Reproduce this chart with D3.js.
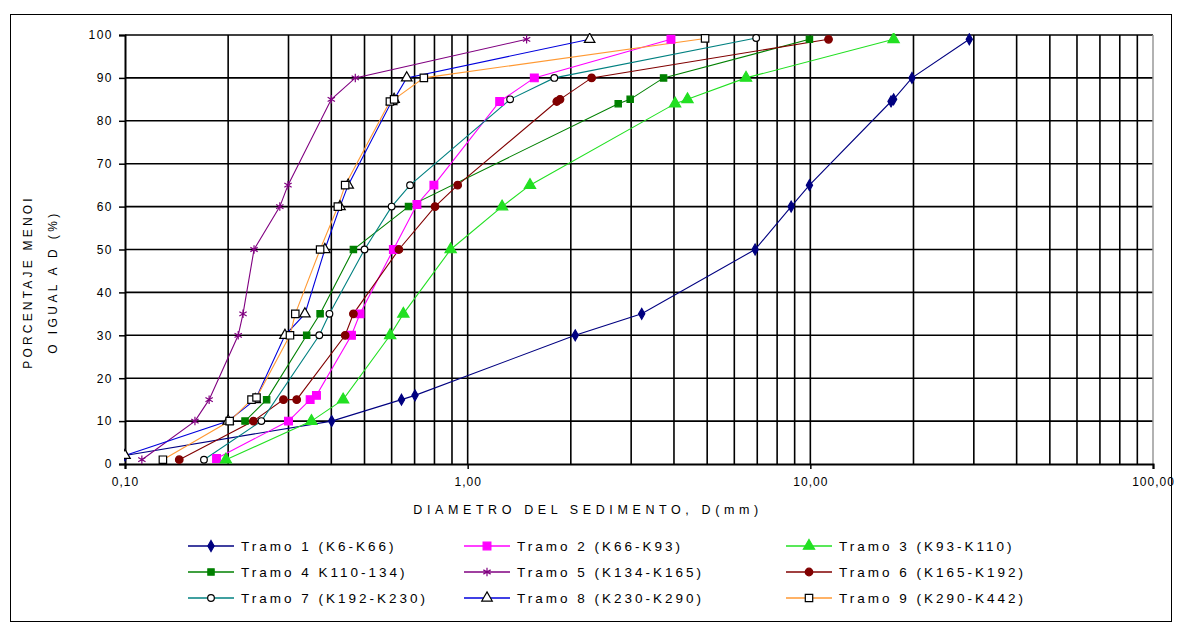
<!DOCTYPE html>
<html>
<head>
<meta charset="utf-8">
<script src="https://cdn.jsdelivr.net/npm/d3@7"></script>
<style>
  body { margin: 0; background: #fff; }
  text { font-family: "Liberation Sans", Arial, sans-serif; fill: #000; }
</style>
</head>
<body>
<div id="chart"></div>
<script>
var width = 1182;
var height = 628;
var margin = { top: 35, right: 29, bottom: 164, left: 125 };
var graphWidth = width - margin.left - margin.right;
var graphHeight = height - margin.top - margin.bottom;

// x: diametro (mm), y: porcentaje menor o igual
var tramo1D = [0.1, 0.401, 0.641, 0.702, 2.06, 3.22, 6.9, 8.79, 9.94, 17.2, 17.5, 19.8, 29.1];
var tramo1P = [2, 10, 15, 16, 30, 35, 50, 60, 65, 84.5, 85, 90, 99];
var tramo2D = [0.185, 0.3, 0.347, 0.362, 0.458, 0.485, 0.607, 0.711, 0.797, 1.24, 1.565, 3.92];
var tramo2P = [1.3, 10, 15, 16, 30, 35, 50, 60.5, 65, 84.5, 90, 99];
var tramo3D = [0.197, 0.35, 0.433, 0.594, 0.649, 0.892, 1.26, 1.52, 4.03, 4.38, 6.49, 17.5];
var tramo3P = [1, 10, 15, 30, 35, 50, 60, 65, 84, 85, 90, 99];
var tramo4D = [0.224, 0.259, 0.339, 0.371, 0.464, 0.672, 2.75, 2.98, 3.73, 9.94];
var tramo4P = [10, 15, 30, 35, 50, 60, 84, 85, 90, 99];
var tramo5D = [0.112, 0.16, 0.176, 0.214, 0.221, 0.238, 0.283, 0.299, 0.4, 0.47, 1.486];
var tramo5P = [1, 10, 15, 30, 35, 50, 60, 65, 85, 90, 99];
var tramo6D = [0.144, 0.237, 0.29, 0.317, 0.439, 0.464, 0.63, 0.803, 0.935, 1.82, 1.86, 2.3, 11.3];
var tramo6P = [1, 10, 15, 15, 30, 35, 50, 60, 65, 84.5, 85, 90, 99];
var tramo7D = [0.17, 0.25, 0.369, 0.395, 0.5, 0.6, 0.679, 1.33, 1.79, 6.95];
var tramo7P = [1, 10, 30, 35, 50, 60, 65, 85, 90, 99.3];
var tramo8D = [0.1, 0.2, 0.24, 0.293, 0.335, 0.383, 0.424, 0.448, 0.6, 0.61, 0.664, 2.27];
var tramo8P = [2, 10, 15, 30, 35, 50, 60, 65, 84.5, 85, 90, 99];
var tramo9D = [0.129, 0.202, 0.234, 0.242, 0.303, 0.314, 0.371, 0.418, 0.439, 0.593, 0.61, 0.745, 4.93];
var tramo9P = [1, 10, 15, 15.5, 30, 35, 50, 60, 65, 84.5, 85, 90, 99.2];

var seriesNames = [
  'Tramo 1 (K6-K66)', 'Tramo 2 (K66-K93)', 'Tramo 3 (K93-K110)',
  'Tramo 4 K110-134)', 'Tramo 5 (K134-K165)', 'Tramo 6 (K165-K192)',
  'Tramo 7 (K192-K230)', 'Tramo 8 (K230-K290)', 'Tramo 9 (K290-K442)'
];
var xTickValues = [0.1, 1, 10, 100];
var xTickLabels = ['0,10', '1,00', '10,00', '100,00'];
var yTickValues = [0, 10, 20, 30, 40, 50, 60, 70, 80, 90, 100];

var styles = [
  { line: '#000080', sym: d3.symbolDiamond, size: 34, fill: '#000080', stroke: '#000080' },
  { line: '#ff00ff', sym: d3.symbolSquare, size: 60, fill: '#ff00ff', stroke: '#ff00ff' },
  { line: '#22e022', sym: d3.symbolTriangle, size: 55, fill: '#22e022', stroke: '#22e022' },
  { line: '#008000', sym: d3.symbolSquare, size: 40, fill: '#008000', stroke: '#008000' },
  { line: '#800080', sym: d3.symbolAsterisk, size: 50, fill: 'none', stroke: '#800080' },
  { line: '#800000', sym: d3.symbolCircle, size: 45, fill: '#800000', stroke: '#800000' },
  { line: '#008080', sym: d3.symbolCircle, size: 35, fill: '#fff', stroke: '#000' },
  { line: '#0000dd', sym: d3.symbolTriangle, size: 48, fill: '#fff', stroke: '#000' },
  { line: '#ff9933', sym: d3.symbolSquare, size: 55, fill: '#fff', stroke: '#000' }
];

var allD = [tramo1D, tramo2D, tramo3D, tramo4D, tramo5D, tramo6D, tramo7D, tramo8D, tramo9D];
var allP = [tramo1P, tramo2P, tramo3P, tramo4P, tramo5P, tramo6P, tramo7P, tramo8P, tramo9P];
var series = seriesNames.map((name, i) => ({
  name: name,
  style: styles[i],
  values: allD[i].map((d, j) => ({ d: d, p: allP[i][j] }))
}));

var svg = d3
  .select('#chart')
  .append('svg')
  .attr('width', width)
  .attr('height', height);

// outer frame
svg
  .append('rect')
  .attr('x', 10.5)
  .attr('y', 14.5)
  .attr('width', 1161)
  .attr('height', 607)
  .attr('fill', '#fff')
  .attr('stroke', '#000')
  .attr('stroke-width', 1);

var graph = svg
  .append('g')
  .attr('transform', 'translate(' + margin.left + ',' + margin.top + ')');

var x = d3.scaleLog().domain([0.1, 100]).range([0, graphWidth]);
var y = d3.scaleLinear().domain([0, 100]).range([graphHeight, 0]);

svg
  .append('defs')
  .append('clipPath')
  .attr('id', 'plot-clip')
  .append('rect')
  .attr('x', -1)
  .attr('y', -2)
  .attr('width', graphWidth + 2)
  .attr('height', graphHeight + 4);

// grid
var vGrid = x.ticks().filter(v => v > 0.1 && v < 100);
graph
  .append('g')
  .selectAll('line')
  .data(vGrid)
  .enter()
  .append('line')
  .attr('x1', d => x(d))
  .attr('x2', d => x(d))
  .attr('y1', 0)
  .attr('y2', graphHeight)
  .attr('stroke', '#000')
  .attr('stroke-width', 1.6);

graph
  .append('g')
  .selectAll('line')
  .data(yTickValues.filter(v => v > 0))
  .enter()
  .append('line')
  .attr('x1', 0)
  .attr('x2', graphWidth)
  .attr('y1', d => y(d))
  .attr('y2', d => y(d))
  .attr('stroke', '#000')
  .attr('stroke-width', 1.6);

// right edge of plot area
graph
  .append('line')
  .attr('x1', graphWidth)
  .attr('x2', graphWidth)
  .attr('y1', 0)
  .attr('y2', graphHeight)
  .attr('stroke', '#999')
  .attr('stroke-width', 1.5);

// axes
var xAxis = d3
  .axisBottom(x)
  .tickValues(xTickValues)
  .tickSize(5)
  .tickFormat((d, i) => xTickLabels[i]);
var xAxisGroup = graph
  .append('g')
  .attr('transform', 'translate(0,' + graphHeight + ')')
  .call(xAxis);
xAxisGroup.select('.domain').attr('stroke', '#000').attr('stroke-width', 2);
xAxisGroup.selectAll('.tick line').attr('stroke', '#000').attr('stroke-width', 1.5);
xAxisGroup
  .selectAll('.tick text')
  .attr('dy', '1.2em')
  .style('font-size', '12px')
  .style('letter-spacing', '1px')
  .style('font-family', '"Liberation Sans", Arial, sans-serif');

var yAxis = d3.axisLeft(y).tickValues(yTickValues).tickSize(6).tickFormat(d3.format('d'));
var yAxisGroup = graph.append('g').call(yAxis);
yAxisGroup.select('.domain').attr('stroke', '#000').attr('stroke-width', 2);
yAxisGroup.selectAll('.tick line').attr('stroke', '#000').attr('stroke-width', 1.5);
yAxisGroup
  .selectAll('.tick text')
  .attr('x', -12)
  .style('font-size', '12px')
  .style('letter-spacing', '1.5px')
  .style('font-family', '"Liberation Sans", Arial, sans-serif');

// series
var plot = graph.append('g').attr('clip-path', 'url(#plot-clip)');
var line = d3
  .line()
  .x(d => x(d.d))
  .y(d => y(d.p));

series.forEach(s => {
  plot
    .append('path')
    .datum(s.values)
    .attr('d', line)
    .attr('fill', 'none')
    .attr('stroke', s.style.line)
    .attr('stroke-width', 1.1);
});

series.forEach(s => {
  plot
    .append('g')
    .selectAll('path')
    .data(s.values)
    .enter()
    .append('path')
    .attr('transform', d => 'translate(' + x(d.d) + ',' + y(d.p) + ')')
    .attr('d', d3.symbol().type(s.style.sym).size(s.style.size))
    .attr('fill', s.style.fill)
    .attr('stroke', s.style.stroke)
    .attr('stroke-width', 1.2);
});

// axis titles
svg
  .append('text')
  .attr('x', 588)
  .attr('y', 514)
  .attr('text-anchor', 'middle')
  .style('font-size', '12.5px')
  .style('letter-spacing', '4.6px')
  .text('DIAMETRO DEL SEDIMENTO, D(mm)');

var yTitle = svg
  .append('g')
  .attr('transform', 'translate(32,282) rotate(-90)');
yTitle
  .append('text')
  .attr('text-anchor', 'middle')
  .style('font-size', '12px')
  .style('letter-spacing', '3.2px')
  .text('PORCENTAJE MENOI');
yTitle
  .append('text')
  .attr('y', 25)
  .attr('text-anchor', 'middle')
  .style('font-size', '12px')
  .style('letter-spacing', '3.4px')
  .text('O IGUAL A D (%)');

// legend
var legendCols = [188, 464, 786];
var legendRows = [546, 572, 598];
var legend = svg.append('g');
series.forEach((s, i) => {
  var lx = legendCols[i % 3];
  var ly = legendRows[Math.floor(i / 3)];
  var item = legend.append('g').attr('transform', 'translate(' + lx + ',' + ly + ')');
  item
    .append('line')
    .attr('x1', 0)
    .attr('x2', 46)
    .attr('y1', 0)
    .attr('y2', 0)
    .attr('stroke', s.style.line)
    .attr('stroke-width', 1.5);
  item
    .append('path')
    .attr('transform', 'translate(23,0)')
    .attr('d', d3.symbol().type(s.style.sym).size(s.style.size))
    .attr('fill', s.style.fill)
    .attr('stroke', s.style.stroke)
    .attr('stroke-width', 1.2);
  item
    .append('text')
    .attr('x', 53)
    .attr('dy', '0.35em')
    .style('font-size', '13.5px')
    .style('letter-spacing', '3px')
    .text(s.name);
});
</script>
</body>
</html>
